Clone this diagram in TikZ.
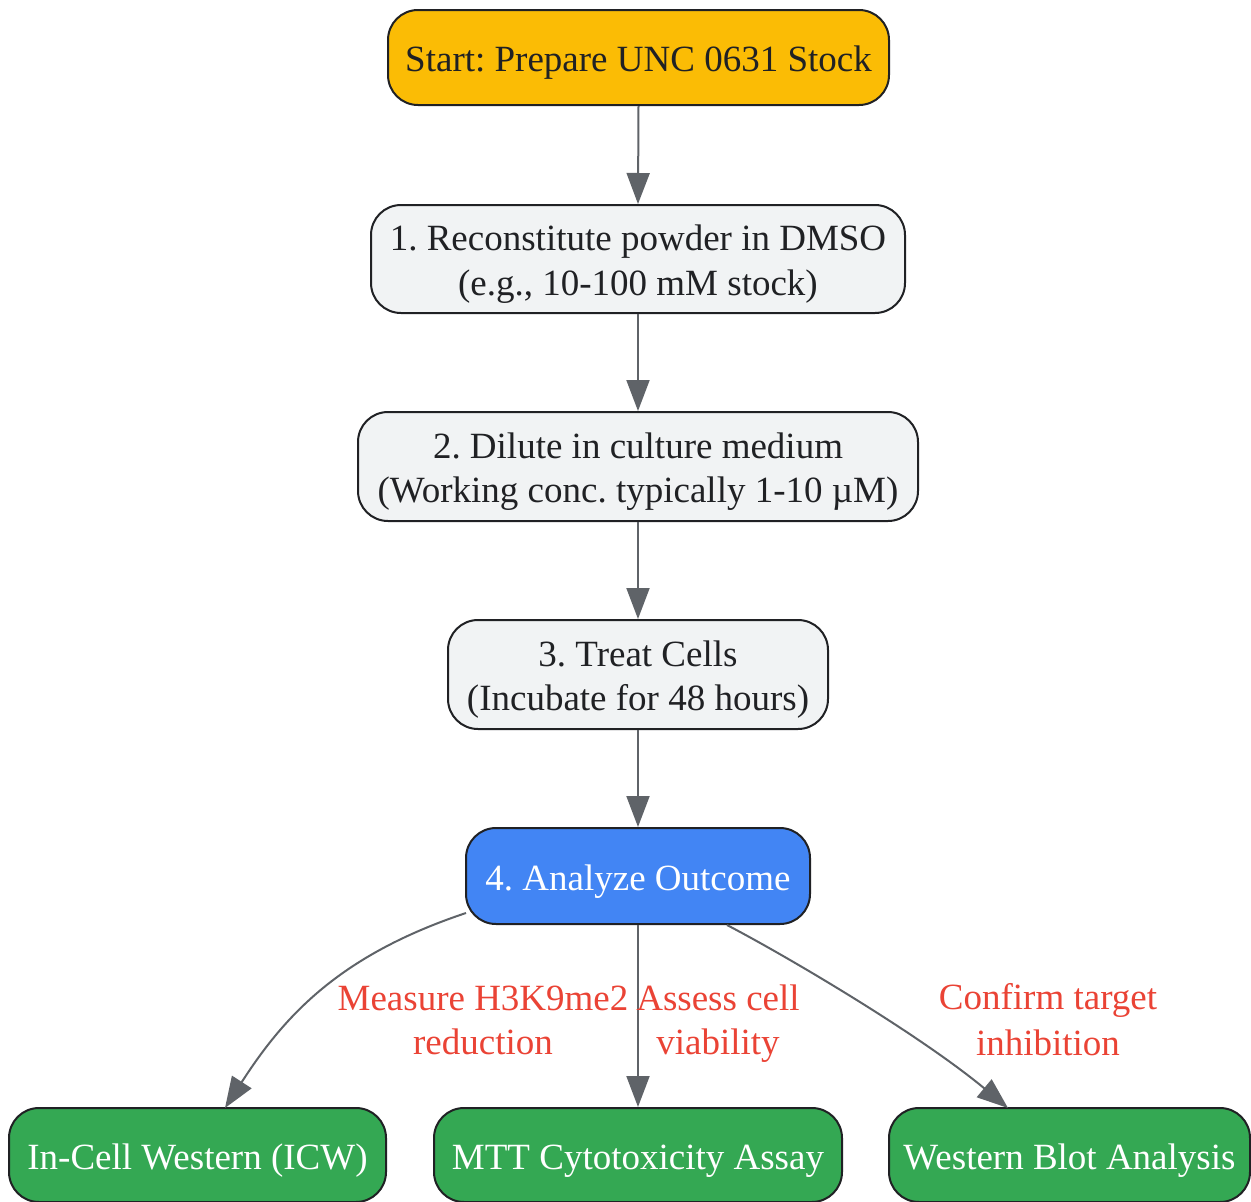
\documentclass[tikz,border=0pt]{standalone}
\usepackage{fontspec}
\setmainfont{Liberation Serif}
\usetikzlibrary{arrows.meta}
\definecolor{txt}{HTML}{202124}
\definecolor{edgegray}{HTML}{5F6368}
\definecolor{startfill}{HTML}{FBBC05}
\definecolor{stepfill}{HTML}{F1F3F4}
\definecolor{bluefill}{HTML}{4285F4}
\definecolor{greenfill}{HTML}{34A853}
\definecolor{labelred}{HTML}{EA4335}
\newcommand{\ls}{\rule[-7.5pt]{0pt}{44pt}}
\tikzset{
  box/.style={draw=txt, line width=2pt, rounded corners=30pt, align=center,
    inner sep=0pt, text=txt, font=\fontsize{37}{44}\selectfont\frenchspacing},
  startbox/.style={box, fill=startfill},
  stepbox/.style={box, fill=stepfill},
  bluebox/.style={box, fill=bluefill, text=white},
  greenbox/.style={box, fill=greenfill, text=white},
  conn/.style={draw=edgegray, line width=2pt, -{Triangle[length=31pt,width=23pt]}},
  elabel/.style={text=labelred, align=center, font=\fontsize{37}{44}\selectfont\frenchspacing, inner sep=0pt}
}
\begin{document}
\begin{tikzpicture}[x=1pt,y=-1pt]
\useasboundingbox (0,0) rectangle (1251,1202);
\node[startbox, minimum width=501pt, minimum height=95pt] (start) at (638.5,57.5) {\ls Start: Prepare UNC 0631 Stock};
\node[stepbox, minimum width=534pt, minimum height=108pt] (n1) at (638,259) {\ls 1. Reconstitute powder in DMSO\\\ls (e.g., 10-100 mM stock)};
\node[stepbox, minimum width=560pt, minimum height=109pt] (n2) at (638,466.5) {\ls 2. Dilute in culture medium\\\ls (Working conc. typically 1-10 µM)};
\node[stepbox, minimum width=380pt, minimum height=109pt] (n3) at (638,674.5) {\ls 3. Treat Cells\\\ls (Incubate for 48 hours)};
\node[bluebox, minimum width=344pt, minimum height=96pt] (n4) at (638,876) {\ls 4. Analyze Outcome};
\node[greenbox, minimum width=377pt, minimum height=94pt] (icw) at (197.5,1155) {\ls In-Cell Western (ICW)};
\node[greenbox, minimum width=408pt, minimum height=94pt] (mtt) at (638,1155) {\ls MTT Cytotoxicity Assay};
\node[greenbox, minimum width=361pt, minimum height=94pt] (wb) at (1069.5,1155) {\ls Western Blot Analysis};

\draw[conn] (start.south) -- (n1.north);
\draw[conn] (n1.south) -- (n2.north);
\draw[conn] (n2.south) -- (n3.north);
\draw[conn] (n3.south) -- (n4.north);
\coordinate (l0) at (466,913);
\coordinate (l1) at (225,1108);
\coordinate (r0) at (727,925);
\coordinate (r1) at (1008,1108);
\draw[conn] (l0) .. controls (340,955) and (285,1015) .. (l1);
\draw[conn] (n4.south) -- (mtt.north);
\draw[conn] (r0) .. controls (790,958) and (920,1035) .. (r1);

\node[elabel] (lab1) at (483,1018) {\ls Measure H3K9me2\\\ls reduction};
\node[elabel] (lab2) at (718,1018) {\ls Assess cell\\\ls viability};
\node[elabel] (lab3) at (1048,1018) {\ls Confirm target\\\ls inhibition};
\end{tikzpicture}
\end{document}
